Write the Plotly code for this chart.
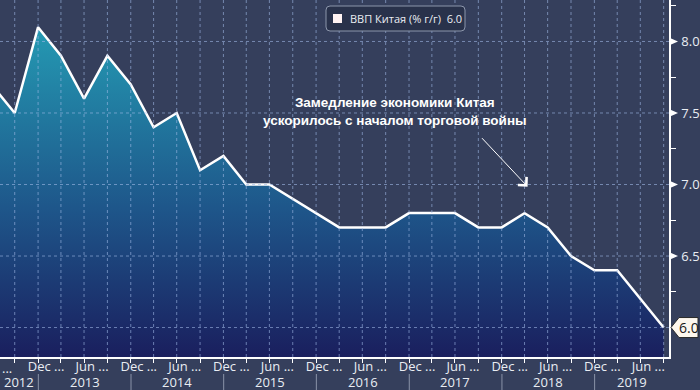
import plotly.graph_objects as go
import pandas as pd

# ---- data ----
quarters = ["2012-06-30", "2012-09-30", "2012-12-31",
            "2013-03-31", "2013-06-30", "2013-09-30", "2013-12-31",
            "2014-03-31", "2014-06-30", "2014-09-30", "2014-12-31",
            "2015-03-31", "2015-06-30", "2015-09-30", "2015-12-31",
            "2016-03-31", "2016-06-30", "2016-09-30", "2016-12-31",
            "2017-03-31", "2017-06-30", "2017-09-30", "2017-12-31",
            "2018-03-31", "2018-06-30", "2018-09-30", "2018-12-31",
            "2019-03-31", "2019-06-30", "2019-09-30"]
gdp_yoy = [7.7, 7.5, 8.1,
           7.9, 7.6, 7.9, 7.7,
           7.4, 7.5, 7.1, 7.2,
           7.0, 7.0, 6.9, 6.8,
           6.7, 6.7, 6.7, 6.8,
           6.8, 6.8, 6.7, 6.7,
           6.8, 6.7, 6.5, 6.4,
           6.4, 6.2, 6.0]
years = [2012, 2013, 2014, 2015, 2016, 2017, 2018, 2019]
y_ticks = [6.0, 6.5, 7.0, 7.5, 8.0]
series_name = "ВВП Китая (% г/г)"
note_text = "Замедление экономики Китая<br>ускорилось с началом торговой войны"

# ---- styling ----
BG = "#353f5c"
GRID = "rgba(160,185,230,0.6)"
TXT = "#e9edf3"
X_RANGE = ["2012-08-03", "2019-10-21"]
Y_RANGE = [5.794, 8.29]
FONT = "Open Sans"

q = pd.to_datetime(quarters)
last_val = gdp_yoy[-1]

# tick labels: Dec / Jun with ellipsis, last one plain
ticktext = []
for i, d in enumerate(q):
    if d.month == 12:
        ticktext.append("Dec ...")
    elif d.month == 6:
        ticktext.append("Jun" if i == len(q) - 1 else "Jun ...")
    else:
        ticktext.append("")

fig = go.Figure()
fig.add_trace(go.Scatter(
    x=quarters, y=gdp_yoy, mode="lines",
    line=dict(color="white", width=2.5),
    fill="tozeroy",
    fillgradient=dict(type="vertical",
                      colorscale=[[0, "#1a1f5e"], [0.45, "#1e568a"], [1, "#249ab3"]],
                      start=Y_RANGE[0], stop=max(gdp_yoy)),
    showlegend=False, hoverinfo="skip",
))

fig.update_layout(
    width=700, height=390,
    margin=dict(l=0, r=31, t=0, b=33, autoexpand=False),
    paper_bgcolor=BG, plot_bgcolor=BG,
    font=dict(family=FONT, color=TXT, size=13),
    showlegend=False,
)
fig.update_xaxes(
    type="date", range=X_RANGE,
    tickmode="array", tickvals=quarters, ticktext=ticktext,
    ticks="outside", ticklen=4, tickcolor="white", tickwidth=1,
    ticklabelshift=8, ticklabelstandoff=-7,
    showgrid=False,
    showline=True, linecolor="white", linewidth=1.5,
    tickfont=dict(size=13, color=TXT, family=FONT),
    zeroline=False,
)
fig.update_yaxes(
    side="right", range=Y_RANGE,
    tickmode="array", tickvals=y_ticks,
    ticktext=["" if v == last_val else f"{v:.1f}" for v in y_ticks],
    ticks="outside", ticklen=8, tickcolor="rgba(0,0,0,0)",
    minor=dict(dtick=0.25, ticks="outside", ticklen=5, tickcolor="white", tickwidth=1, showgrid=False),
    showgrid=False,
    showline=True, linecolor="white", linewidth=1.5,
    tickfont=dict(size=13, color=TXT, family=FONT),
    zeroline=False,
)

# dashed grid drawn above the filled area
for d in quarters:
    fig.add_vline(x=d, line=dict(color=GRID, width=1, dash="dot"), layer="above")
for v in y_ticks:
    fig.add_hline(y=v, line=dict(color=GRID, width=1, dash="dot"), layer="above")

# triangle markers on major y ticks
for v in y_ticks:
    if v == last_val:
        continue
    fig.add_shape(type="path", xref="paper", yref="y",
                  xsizemode="pixel", ysizemode="pixel", xanchor=1, yanchor=v,
                  path="M 1 -3.5 L 9 0 L 1 3.5 Z",
                  fillcolor="white", line=dict(width=0), layer="above")

# last value callout
fig.add_shape(type="path", xref="paper", yref="y",
              xsizemode="pixel", ysizemode="pixel", xanchor=1, yanchor=last_val,
              path="M 2 0 L 10 -10 L 29 -10 L 29 10 L 10 10 Z",
              fillcolor="#fdf7ee", line=dict(color="#2a2a2a", width=1), layer="above")
fig.add_annotation(xref="paper", yref="y", x=1, y=last_val, xshift=20,
                   xanchor="center", yanchor="middle",
                   text=f"{last_val:.1f}", showarrow=False,
                   font=dict(size=14, color="#1a1a1a", family=FONT))

# year separators and labels
x0 = pd.Timestamp(X_RANGE[0])
x1 = pd.Timestamp(X_RANGE[1])
for yr in years:
    start = max(pd.Timestamp(f"{yr}-01-01"), x0)
    end = min(pd.Timestamp(f"{yr + 1}-01-01"), x1)
    mid = (start + (end - start) / 2).strftime("%Y-%m-%d")
    fig.add_annotation(xref="x", yref="paper", x=mid, y=-(382 - 357) / 357,
                       text=str(yr), showarrow=False, yanchor="middle",
                       font=dict(size=13, color=TXT, family=FONT))
    if pd.Timestamp(f"{yr}-01-01") > x0:
        fig.add_shape(type="line", xref="x", yref="paper",
                      x0=f"{yr}-01-01", x1=f"{yr}-01-01",
                      y0=-(374 - 357) / 357, y1=-(390 - 357) / 357,
                      line=dict(color="#8a93a8", width=1))

# clipped label at far left
fig.add_annotation(xref="paper", yref="paper", x=0, y=-(368 - 357) / 357,
                   xanchor="left", yanchor="middle", text="...", showarrow=False,
                   font=dict(size=13, color=TXT, family=FONT))

# legend box (manual)
fig.add_shape(type="path", xref="paper", yref="paper",
              xsizemode="pixel", ysizemode="pixel", xanchor=0, yanchor=1,
              path="M 330 -6 L 461 -6 Q 465 -6 465 -10 L 465 -27 Q 465 -31 461 -31 "
                   "L 330 -31 Q 326 -31 326 -27 L 326 -10 Q 326 -6 330 -6 Z",
              fillcolor="#29324b", line=dict(color="#8c96ab", width=1), layer="above")
fig.add_shape(type="rect", xref="paper", yref="paper",
              xsizemode="pixel", ysizemode="pixel", xanchor=0, yanchor=1,
              x0=333, x1=342, y0=-14, y1=-23,
              fillcolor="#fff3f3", line=dict(width=0), layer="above")
fig.add_annotation(xref="paper", yref="paper", x=348 / 669, y=1 - 18.5 / 357,
                   xanchor="left", yanchor="middle",
                   text=f"{series_name}  {last_val:.1f}", showarrow=False,
                   font=dict(size=11, color=TXT, family=FONT))

# commentary
fig.add_annotation(xref="paper", yref="paper", x=395 / 669, y=1 - 111 / 357,
                   text=f"<b>{note_text}</b>", showarrow=False, align="center",
                   xanchor="center", yanchor="middle",
                   font=dict(size=13.5, color="white", family="Liberation Sans"))
fig.add_annotation(xref="x", yref="y", x="2018-04-12", y=6.985,
                   ax=-47, ay=-50, text="", showarrow=True,
                   arrowhead=4, arrowsize=2.3, arrowwidth=1, arrowcolor="white")

fig.write_html("out.html", config={"displayModeBar": False},
               post_script="document.body.style.margin='0';document.body.style.overflow='hidden';")
